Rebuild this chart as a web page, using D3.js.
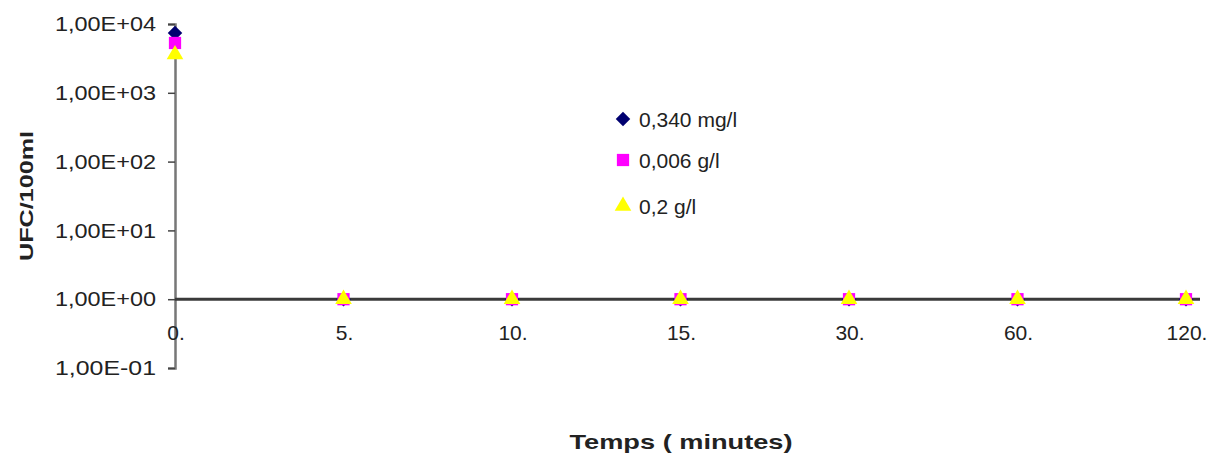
<!DOCTYPE html>
<html>
<head>
<meta charset="utf-8">
<script src="https://cdn.jsdelivr.net/npm/d3@7"></script>
<style>
  body { margin: 0; background: #fff; }
  svg { display: block; }
  text { font-family: "Liberation Sans", Arial, sans-serif; fill: #222; }
</style>
</head>
<body>
<svg id="chart" width="1220" height="459"></svg>
<script>
// Sampling times (minutes) and colony counts per concentration
const times = ["0.", "5.", "10.", "15.", "30.", "60.", "120."];
const seriesNames = ["0,340 mg/l", "0,006 g/l", "0,2 g/l"];
const valuesA = [7400, 1, 1, 1, 1, 1, 1];   // 0,340 mg/l
const valuesB = [5300, 1, 1, 1, 1, 1, 1];   // 0,006 g/l
const valuesC = [3600, 1, 1, 1, 1, 1, 1];   // 0,2 g/l
const yTicks = [1e4, 1e3, 1e2, 1e1, 1e0, 1e-1];
const yTickLabels = ["1,00E+04", "1,00E+03", "1,00E+02", "1,00E+01", "1,00E+00", "1,00E-01"];

const svg = d3.select("#chart");

const x = d3.scalePoint().domain(times).range([175, 1186]);
const y = d3.scaleLog().domain([1e-1, 1e4]).range([368, 24]);

// Vertical axis with tick marks on the left
const yAxis = d3.axisLeft(y)
  .tickValues(yTicks)
  .tickSize(7)
  .tickPadding(12)
  .tickFormat((d, i) => yTickLabels[i]);
const gy = svg.append("g").attr("transform", "translate(175,0)").call(yAxis);
gy.select(".domain").attr("stroke", "#777").attr("stroke-width", 2.5);
gy.selectAll(".tick line").attr("stroke", "#444").attr("stroke-width", 1.5);
gy.selectAll(".tick text")
  .style("font-size", "21px")
  .attr("fill", "#333")
  .attr("textLength", 101)
  .attr("lengthAdjust", "spacingAndGlyphs");

// Horizontal axis crossing at 1
const yCross = y(1);
svg.append("line")
  .attr("x1", 175).attr("x2", 1200)
  .attr("y1", yCross).attr("y2", yCross)
  .attr("stroke", "#3a3a3a").attr("stroke-width", 3);

svg.append("g").selectAll("text").data(times).join("text")
  .attr("x", d => x(d) + 1)
  .attr("y", yCross + 41)
  .attr("text-anchor", "middle")
  .style("font-size", "21px")
  .attr("fill", "#333")
  .text(d => d);

// Marker shapes: diamond drawn as a square turned by 45 degrees
const series = [
  { name: seriesNames[0], values: valuesA, color: "#000070", shape: d3.symbolSquare, rot: 45, size: 105 },
  { name: seriesNames[1], values: valuesB, color: "#ff00ff", shape: d3.symbolSquare, rot: 0, size: 150 },
  { name: seriesNames[2], values: valuesC, color: "#ffff00", shape: d3.symbolTriangle, rot: 0, size: 120 }
];

series.forEach(s => {
  svg.append("g").selectAll("path").data(s.values).join("path")
    .attr("transform", (v, i) => `translate(${x(times[i])},${y(v)}) rotate(${s.rot})`)
    .attr("d", d3.symbol().type(s.shape).size(s.size))
    .attr("fill", s.color);
});

// Legend
const legend = svg.append("g");
const legendY = [119, 160, 206];
series.forEach((s, i) => {
  legend.append("path")
    .attr("transform", `translate(623,${legendY[i]}) rotate(${s.rot})`)
    .attr("d", d3.symbol().type(s.shape).size(s.size))
    .attr("fill", s.color);
  legend.append("text")
    .attr("x", 639).attr("y", legendY[i] + 8)
    .style("font-size", "21px")
    .attr("fill", "#333")
    .text(s.name);
});

// Axis titles
svg.append("text")
  .attr("transform", "translate(33,196) rotate(-90)")
  .attr("text-anchor", "middle")
  .style("font-size", "19px")
  .style("font-weight", "bold")
  .attr("textLength", 130)
  .attr("lengthAdjust", "spacingAndGlyphs")
  .text("UFC/100ml");

svg.append("text")
  .attr("x", 681).attr("y", 449)
  .attr("text-anchor", "middle")
  .style("font-size", "21px")
  .style("font-weight", "bold")
  .attr("textLength", 223)
  .attr("lengthAdjust", "spacingAndGlyphs")
  .text("Temps ( minutes)");
</script>
</body>
</html>
